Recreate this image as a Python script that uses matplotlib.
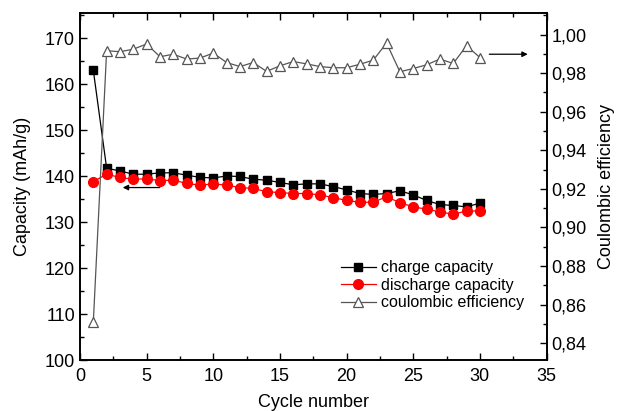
import matplotlib
matplotlib.use('Agg')
from matplotlib import pyplot as plt
from matplotlib.ticker import MultipleLocator, FuncFormatter

plt.rcParams['font.family'] = ['Liberation Sans', 'DejaVu Sans']

cycles = list(range(1, 31))

charge = [163.0, 141.7, 141.1, 140.4, 140.4, 140.7, 140.7, 140.2, 139.7, 139.6,
          140.0, 139.9, 139.3, 139.1, 138.6, 138.1, 138.3, 138.3, 137.7, 137.0,
          136.2, 136.0, 136.2, 136.8, 135.9, 134.7, 133.8, 133.6, 133.3, 134.1]

discharge = [138.8, 140.4, 139.7, 139.3, 139.4, 139.0, 139.1, 138.4, 138.0, 138.3,
             138.0, 137.5, 137.3, 136.6, 136.4, 136.2, 136.2, 135.9, 135.3, 134.7,
             134.3, 134.3, 135.5, 134.2, 133.3, 132.8, 132.2, 131.7, 132.4, 132.4]

efficiency = [0.8508, 0.9916, 0.9911, 0.9924, 0.9951, 0.9885, 0.9898, 0.9873, 0.9878, 0.9904,
              0.9855, 0.9834, 0.9855, 0.9809, 0.9838, 0.9860, 0.9848, 0.9834, 0.9828, 0.9828,
              0.9846, 0.9867, 0.9956, 0.9807, 0.9824, 0.9843, 0.9873, 0.9850, 0.9942, 0.9881]

fig = plt.figure(figsize=(6.19, 4.11), dpi=100)
ax = fig.add_axes([0.1292, 0.124, 0.7537, 0.845])
ax2 = ax.twinx()

l1, = ax.plot(cycles, charge, color='black', lw=0.9, marker='s', ms=5.5,
              label='charge capacity')
l2, = ax.plot(cycles, discharge, color='red', lw=0.9, marker='o', ms=7,
              label='discharge capacity')
l3, = ax2.plot(cycles, efficiency, color='#555555', lw=0.9, marker='^', ms=7,
               mfc='white', mec='#555555', mew=0.9, label='coulombic efficiency')

ax.set_xlim(0, 35)
ax.set_ylim(100, 175.5)
ax2.set_ylim(0.8313, 1.0113)

ax.xaxis.set_major_locator(MultipleLocator(5))
ax.xaxis.set_minor_locator(MultipleLocator(2.5))
ax.yaxis.set_major_locator(MultipleLocator(10))
ax.yaxis.set_minor_locator(MultipleLocator(5))
ax2.yaxis.set_major_locator(MultipleLocator(0.02))
ax2.yaxis.set_minor_locator(MultipleLocator(0.01))
ax2.yaxis.set_major_formatter(FuncFormatter(lambda v, p: ('%.2f' % v).replace('.', ',')))

ax.tick_params(which='both', direction='in', top=True, labelsize=13, width=1)
ax.tick_params(which='major', length=5)
ax.tick_params(which='minor', length=3)
ax.tick_params(axis='x', pad=6)
ax.tick_params(axis='y', right=False)
ax2.tick_params(which='both', direction='in', labelsize=13, width=1)
ax2.tick_params(which='major', length=5)
ax2.tick_params(which='minor', length=3)

for a in (ax, ax2):
    for s in a.spines.values():
        s.set_linewidth(1.2)

ax.set_xlabel('Cycle number', fontsize=13, labelpad=6)
ax.set_ylabel('Capacity (mAh/g)', fontsize=13, labelpad=10)
ax2.set_ylabel('Coulombic efficiency', fontsize=13, labelpad=8)

# arrows pointing at the axes
ax.annotate('', xy=(3.0, 137.5), xytext=(6.2, 137.5),
            arrowprops=dict(arrowstyle='-|>', color='black', lw=0.9, mutation_scale=8))
ax2.annotate('', xy=(33.8, 0.9898), xytext=(30.5, 0.9898),
             arrowprops=dict(arrowstyle='-|>', color='black', lw=0.9, mutation_scale=8))

ax.legend(handles=[l1, l2, l3], loc='upper left', bbox_to_anchor=(0.545, 0.305),
          frameon=False, fontsize=11.5, handlelength=2.2, handletextpad=0.3,
          labelspacing=0.15, borderaxespad=0)

fig.savefig('out.png', dpi=100)
